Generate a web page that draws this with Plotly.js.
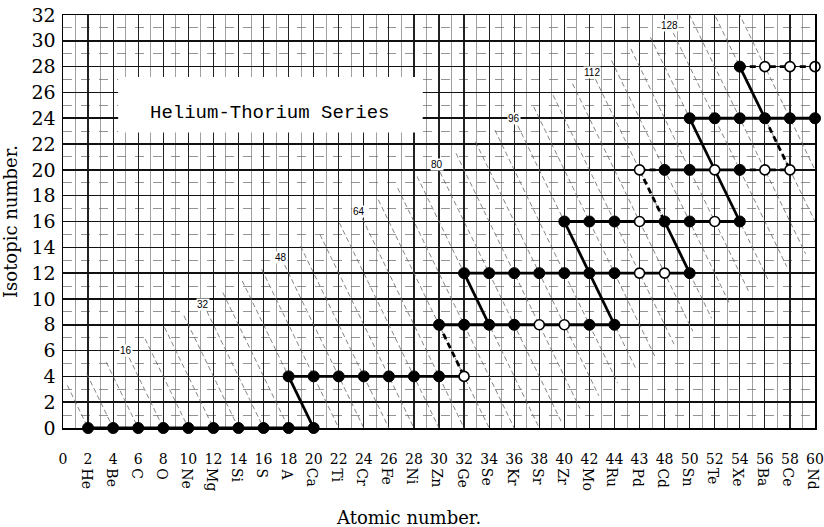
<!DOCTYPE html>
<html>
<head>
<meta charset="utf-8">
<script src="https://cdn.plot.ly/plotly-3.0.1.min.js"></script>
<style>html,body{margin:0;padding:0;background:#fff;}#chart{width:824px;height:527px;}</style>
</head>
<body>
<div id="chart"></div>
<script>
// ---- data ----
const atomicTicks = [0,2,4,6,8,10,12,14,16,18,20,22,24,26,28,30,32,34,36,38,40,42,44,46,48,50,52,54,56,58,60];
const atomicTickText = ['0','2','4','6','8','10','12','14','16','18','20','22','24','26','28','30','32','34','36','38','40','42','44','43','48','50','52','54','56','58','60'];
const elementZ = [2,4,6,8,10,12,14,16,18,20,22,24,26,28,30,32,34,36,38,40,42,44,46,48,50,52,54,56,58,60];
const elementSymbols = ['He','Be','C','O','Ne','Mg','Si','S','A','Ca','Ti','Cr','Fe','Ni','Zn','Ge','Se','Kr','Sr','Zr','Mo','Ru','Pd','Cd','Sn','Te','Xe','Ba','Ce','Nd'];
const isotopicTicks = [0,2,4,6,8,10,12,14,16,18,20,22,24,26,28,30,32];

// rows of the series: isotopic number, filled (known) and open (predicted) atomic numbers
const rowIso = [0,4,8,12,16,20,24,28];
const rowFilled = [
  [2,4,6,8,10,12,14,16,18,20],
  [18,20,22,24,26,28,30],
  [30,32,34,36,42,44],
  [32,34,36,38,40,42,44,50],
  [40,42,44,48,50,54],
  [48,50,54],
  [50,52,54,56,58,60],
  [54]
];
const rowOpen = [
  [],
  [32],
  [38,40],
  [46,48],
  [46,52],
  [46,52,56,58],
  [],
  [56,58,60]
];
// connecting segments [Z1, N1, Z2, N2]
const solidSegments = [
  [2,0,20,0],[18,4,32,4],[30,8,44,8],[32,12,50,12],[40,16,54,16],
  [48,20,54,20],[50,24,60,24],
  [18,4,20,0],[32,12,34,8],[40,16,44,8],[48,16,50,12],[50,24,54,16],[54,28,56,24]
];
const dashedSegments = [
  [46,20,48,20],[54,20,58,20],[54,28,60,28],
  [30,8,32,4],[46,20,48,16],[56,24,58,20]
];
// background lines of constant atomic weight (A = 2Z + N)
const isobarA = [4,8,12,16,20,24,28,32,36,40,44,48,52,56,60,64,68,72,76,80,84,88,92,96,100,104,108,112,116,120,124,128,132,136,140];
const isobarLabels = [16,32,48,64,80,96,112,128];

// ---- build traces ----
function labelLinePos(A){ const x=(A-3.1)/2.58; return [x, A-2*x]; }

const diagX=[], diagY=[];
isobarA.forEach(A=>{
  const [xt,yt] = labelLinePos(A);
  const yb = Math.max(0,(A-78)/4);
  const xb = (A-yb)/2;
  if (yt>yb){ diagX.push(xt,xb,null); diagY.push(yt,yb,null); }
});

function segTrace(segs, dash){
  const x=[], y=[];
  segs.forEach(s=>{ x.push(s[0],s[2],null); y.push(s[1],s[3],null); });
  return {type:'scatter', mode:'lines', x, y, hoverinfo:'skip',
    line:{color:'#000', width:2.8, dash:dash}, showlegend:false};
}

const fx=[], fy=[], ox=[], oy=[];
rowIso.forEach((n,i)=>{
  rowFilled[i].forEach(z=>{fx.push(z); fy.push(n);});
  rowOpen[i].forEach(z=>{ox.push(z); oy.push(n);});
});

const traces = [
  {type:'scatter', mode:'lines', x:diagX, y:diagY, hoverinfo:'skip', showlegend:false,
   line:{color:'#666', width:0.8, dash:'5px,3px'}},
  segTrace(solidSegments, 'solid'),
  segTrace(dashedSegments, '6px,4px'),
  {type:'scatter', mode:'markers', x:fx, y:fy, showlegend:false, cliponaxis:false,
   marker:{size:11, color:'#000', line:{color:'#000', width:1}}},
  {type:'scatter', mode:'markers', x:ox, y:oy, showlegend:false, cliponaxis:false,
   marker:{size:10, color:'#fff', line:{color:'#000', width:1.6}}}
];

const annotations = [];
elementZ.forEach((z,i)=>{
  annotations.push({x:z, y:-0.092, xref:'x', yref:'paper', text:elementSymbols[i],
    textangle:90, showarrow:false, xanchor:'center', yanchor:'top', xshift:-2,
    font:{family:'DejaVu Serif', size:14, color:'#000'}});
});
isobarLabels.forEach(A=>{
  const [x,y] = labelLinePos(A);
  annotations.push({x:x, y:y, xref:'x', yref:'y', text:String(A), showarrow:false,
    bgcolor:'#fff', borderpad:0, font:{family:'Liberation Sans', size:10, color:'#000'}});
});
annotations.push({x:16.5, y:24.4, xref:'x', yref:'y', text:'Helium-Thorium Series', showarrow:false,
  font:{family:'Liberation Mono', size:19, color:'#000'}});
annotations.push({x:0.46, y:-0.216, xref:'paper', yref:'paper', text:'Atomic number.', showarrow:false,
  xanchor:'center', yanchor:'middle', font:{family:'DejaVu Serif', size:18, color:'#000'}});

const layout = {
  width:824, height:527,
  margin:{l:63, r:9, t:15, b:99},
  paper_bgcolor:'#fff', plot_bgcolor:'#fff',
  showlegend:false,
  xaxis:{range:[0,60], tickmode:'array', tickvals:atomicTicks, ticktext:atomicTickText,
    showgrid:true, gridcolor:'#222', gridwidth:1.2, zeroline:false,
    showline:true, mirror:true, linecolor:'#000', linewidth:1.5,
    ticks:'', ticklabelstandoff:18,
    tickfont:{family:'DejaVu Serif', size:14, color:'#000'},
    minor:{dtick:1, showgrid:true, gridcolor:'#777', gridwidth:0.7}},
  yaxis:{range:[0,32], tickmode:'array', tickvals:isotopicTicks,
    showgrid:true, gridcolor:'#111', gridwidth:1.6, zeroline:false,
    showline:true, mirror:true, linecolor:'#000', linewidth:1.5,
    ticks:'', ticklabelstandoff:2,
    tickfont:{family:'DejaVu Serif', size:19, color:'#000'},
    title:{text:'Isotopic number.', standoff:10, font:{family:'DejaVu Serif', size:18, color:'#000'}},
    minor:{dtick:1, showgrid:true, gridcolor:'#666', gridwidth:0.7, griddash:'dash'}},
  shapes:[{type:'rect', xref:'x', yref:'y', x0:4.4, x1:28.7, y0:22.9, y1:27.2,
    fillcolor:'#fff', line:{width:0}, layer:'between'}],
  annotations
};

Plotly.newPlot('chart', traces, layout, {displayModeBar:false, staticPlot:true});
</script>
</body>
</html>
